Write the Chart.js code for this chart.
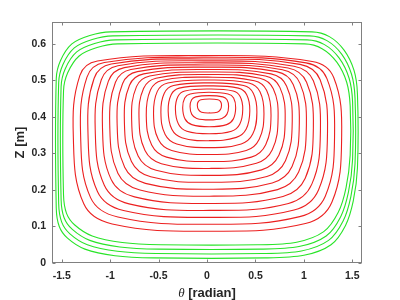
<!DOCTYPE html>
<html>
<head>
<meta charset="utf-8">
<script src="https://cdn.jsdelivr.net/npm/chart.js@4.4.1/dist/chart.umd.min.js"></script>
<style>
html, body { margin: 0; padding: 0; background: #fff; }
</style>
</head>
<body>
<canvas id="chart" width="400" height="300"></canvas>
<script>
(function () {

// ---------------------------------------------------------------- data

var xTicks = [-1.5, -1, -0.5, 0, 0.5, 1, 1.5];
var xTickLabels = ['-1.5', '-1', '-0.5', '0', '0.5', '1', '1.5'];
var yTicks = [0, 0.1, 0.2, 0.3, 0.4, 0.5, 0.6];
var yTickLabels = ['0', '0.1', '0.2', '0.3', '0.4', '0.5', '0.6'];

// closed contours, counter-clockwise from the right side
var redTheta = [
    [1.390, 1.308, 1.086, -0.050, -1.131, -1.313, -1.380, -1.272, -0.979, 0.033, 1.016, 1.290],
    [1.317, 1.238, 1.023, -0.044, -1.060, -1.239, -1.305, -1.202, -0.920, 0.031, 0.957, 1.221],
    [1.244, 1.168, 0.961, -0.036, -0.989, -1.165, -1.229, -1.131, -0.862, 0.030, 0.899, 1.151],
    [1.171, 1.098, 0.899, -0.030, -0.920, -1.091, -1.154, -1.060, -0.805, 0.028, 0.841, 1.082],
    [1.098, 1.028, 0.838, -0.024, -0.853, -1.018, -1.079, -0.990, -0.748, 0.026, 0.784, 1.014],
    [1.026, 0.960, 0.779, -0.018, -0.786, -0.945, -1.004, -0.920, -0.692, 0.025, 0.728, 0.946],
    [0.953, 0.890, 0.720, -0.012, -0.719, -0.872, -0.928, -0.850, -0.636, 0.025, 0.673, 0.878],
    [0.880, 0.821, 0.661, -0.007, -0.654, -0.800, -0.853, -0.780, -0.581, 0.024, 0.618, 0.810],
    [0.807, 0.752, 0.603, -0.002, -0.591, -0.728, -0.778, -0.711, -0.526, 0.023, 0.563, 0.742],
    [0.734, 0.684, 0.546, 0.003, -0.527, -0.655, -0.702, -0.640, -0.471, 0.023, 0.510, 0.674],
    [0.661, 0.615, 0.489, 0.007, -0.466, -0.584, -0.627, -0.571, -0.418, 0.023, 0.457, 0.606],
    [0.588, 0.547, 0.433, 0.010, -0.405, -0.513, -0.552, -0.502, -0.365, 0.022, 0.405, 0.539],
    [0.515, 0.478, 0.378, 0.014, -0.345, -0.441, -0.476, -0.432, -0.312, 0.022, 0.353, 0.472],
    [0.442, 0.410, 0.324, 0.017, -0.287, -0.370, -0.401, -0.363, -0.260, 0.023, 0.303, 0.405],
    [0.369, 0.342, 0.270, 0.019, -0.229, -0.300, -0.326, -0.294, -0.208, 0.023, 0.253, 0.338],
    [0.296, 0.275, 0.217, 0.021, -0.173, -0.230, -0.251, -0.226, -0.157, 0.023, 0.203, 0.271],
    [0.223, 0.207, 0.164, 0.024, -0.117, -0.159, -0.175, -0.157, -0.106, 0.024, 0.154, 0.205],
    [0.150, 0.140, 0.113, 0.025, -0.063, -0.090, -0.100, -0.088, -0.056, 0.025, 0.106, 0.138]
];
var redZ = [
    [0.347, 0.508, 0.552, 0.568, 0.553, 0.513, 0.347, 0.162, 0.107, 0.087, 0.108, 0.167],
    [0.353, 0.505, 0.548, 0.5635, 0.549, 0.509, 0.353, 0.179, 0.126, 0.106, 0.127, 0.183],
    [0.360, 0.502, 0.544, 0.5587, 0.545, 0.506, 0.360, 0.196, 0.144, 0.125, 0.145, 0.200],
    [0.366, 0.499, 0.539, 0.5536, 0.540, 0.502, 0.366, 0.213, 0.162, 0.144, 0.163, 0.216],
    [0.372, 0.495, 0.534, 0.5481, 0.535, 0.498, 0.372, 0.229, 0.181, 0.163, 0.182, 0.232],
    [0.378, 0.492, 0.529, 0.5424, 0.530, 0.495, 0.378, 0.246, 0.200, 0.183, 0.201, 0.249],
    [0.384, 0.489, 0.524, 0.5363, 0.524, 0.491, 0.384, 0.262, 0.218, 0.202, 0.219, 0.264],
    [0.389, 0.485, 0.518, 0.5299, 0.518, 0.487, 0.389, 0.278, 0.236, 0.221, 0.237, 0.280],
    [0.394, 0.481, 0.512, 0.5232, 0.512, 0.483, 0.394, 0.293, 0.254, 0.240, 0.255, 0.295],
    [0.399, 0.477, 0.506, 0.5162, 0.506, 0.478, 0.399, 0.308, 0.272, 0.259, 0.273, 0.310],
    [0.404, 0.473, 0.499, 0.5089, 0.500, 0.474, 0.404, 0.323, 0.290, 0.278, 0.290, 0.324],
    [0.409, 0.469, 0.493, 0.5013, 0.493, 0.470, 0.409, 0.338, 0.308, 0.297, 0.308, 0.339],
    [0.413, 0.465, 0.486, 0.4933, 0.486, 0.465, 0.413, 0.352, 0.326, 0.316, 0.326, 0.353],
    [0.417, 0.461, 0.479, 0.4851, 0.479, 0.461, 0.417, 0.366, 0.343, 0.335, 0.344, 0.367],
    [0.421, 0.456, 0.471, 0.4765, 0.471, 0.456, 0.421, 0.380, 0.361, 0.354, 0.361, 0.380],
    [0.425, 0.452, 0.463, 0.4676, 0.463, 0.452, 0.425, 0.394, 0.379, 0.373, 0.379, 0.394],
    [0.4285, 0.447, 0.455, 0.4584, 0.455, 0.447, 0.4285, 0.407, 0.396, 0.392, 0.396, 0.407],
    [0.432, 0.442, 0.447, 0.449, 0.447, 0.442, 0.432, 0.420, 0.413, 0.411, 0.413, 0.420]
];
var greenTheta = [
    [1.553, 1.517, 1.415, 1.263, 1.083, -0.996, -1.210, -1.395, -1.513, -1.556,
     -1.556, -1.525, -1.440, -1.260, -0.950, -0.550, 0.600, 1.000, 1.280, 1.430, 1.510, 1.553],
    [1.528, 1.492, 1.390, 1.238, 1.058, -0.971, -1.185, -1.370, -1.488, -1.531,
     -1.531, -1.500, -1.415, -1.235, -0.925, -0.525, 0.575, 0.975, 1.255, 1.405, 1.485, 1.528],
    [1.503, 1.467, 1.365, 1.213, 1.033, -0.946, -1.160, -1.345, -1.463, -1.506,
     -1.506, -1.475, -1.390, -1.210, -0.900, -0.500, 0.550, 0.950, 1.230, 1.380, 1.460, 1.503],
    [1.478, 1.442, 1.340, 1.188, 1.008, -0.921, -1.135, -1.320, -1.438, -1.481,
     -1.481, -1.450, -1.365, -1.185, -0.875, -0.475, 0.525, 0.925, 1.205, 1.355, 1.435, 1.478]
];
var greenZ = [
    [0.463, 0.528, 0.583, 0.620, 0.633, 0.633, 0.623, 0.600, 0.554, 0.505,
     0.150, 0.100, 0.068, 0.038, 0.020, 0.014, 0.014, 0.021, 0.050, 0.103, 0.170, 0.260],
    [0.452, 0.517, 0.572, 0.609, 0.622, 0.622, 0.612, 0.589, 0.543, 0.494,
     0.162, 0.112, 0.080, 0.050, 0.032, 0.026, 0.026, 0.033, 0.062, 0.115, 0.182, 0.272],
    [0.441, 0.506, 0.561, 0.598, 0.611, 0.611, 0.601, 0.578, 0.532, 0.483,
     0.174, 0.124, 0.092, 0.062, 0.044, 0.038, 0.038, 0.045, 0.074, 0.127, 0.194, 0.284],
    [0.430, 0.495, 0.550, 0.587, 0.600, 0.600, 0.590, 0.567, 0.521, 0.472,
     0.186, 0.136, 0.104, 0.074, 0.056, 0.050, 0.050, 0.057, 0.086, 0.139, 0.206, 0.296]
];

var RED = 'rgb(236, 32, 32)';
var GREEN = 'rgb(40, 228, 40)';

// ---------------------------------------------------------------- helpers

// wrap a closed loop so every visible point has real neighbours for the spline;
// the two extra end segments are made transparent
function loopSet(th, z, color, tension) {
    var n = th.length, pts = [];
    pts.push({ x: th[n - 1], y: z[n - 1] });
    for (var i = 0; i < n; i++) pts.push({ x: th[i], y: z[i] });
    pts.push({ x: th[0], y: z[0] });
    pts.push({ x: th[1], y: z[1] });
    return {
        data: pts,
        showLine: true,
        borderColor: color,
        borderWidth: 1.1,
        pointRadius: 0,
        pointHoverRadius: 0,
        tension: tension,
        fill: false,
        segment: {
            borderColor: function (ctx) {
                return (ctx.p0DataIndex === 0 || ctx.p0DataIndex === n + 1) ? 'rgba(0,0,0,0)' : color;
            }
        }
    };
}

var datasets = [];
for (var g = 0; g < greenTheta.length; g++) datasets.push(loopSet(greenTheta[g], greenZ[g], GREEN, 0.3));
for (var r = 0; r < redTheta.length; r++) datasets.push(loopSet(redTheta[r], redZ[r], RED, 0.4));

var FONT = '"Liberation Sans", Arial, sans-serif';

var boxPlugin = {
    id: 'matlabBox',
    afterDraw: function (chart) {
        var c = chart.ctx, a = chart.chartArea, xs = chart.scales.x, ys = chart.scales.y;
        var L = Math.round(a.left) + 0.5, R = Math.round(a.right) - 0.5;
        var T = Math.round(a.top) + 0.5, B = Math.round(a.bottom) - 0.5;
        c.save();
        c.strokeStyle = '#808080';
        c.lineWidth = 1;
        c.strokeRect(L, T, R - L, B - T);
        c.beginPath();
        xTicks.forEach(function (v) {
            var px = Math.round(xs.getPixelForValue(v)) + 0.5;
            c.moveTo(px, B); c.lineTo(px, B - 3);
            c.moveTo(px, T); c.lineTo(px, T + 3);
        });
        yTicks.forEach(function (v) {
            var py = Math.round(ys.getPixelForValue(v)) + 0.5;
            c.moveTo(L, py); c.lineTo(L + 3, py);
            c.moveTo(R, py); c.lineTo(R - 3, py);
        });
        c.stroke();

        // axis titles
        c.fillStyle = '#262626';
        c.textBaseline = 'alphabetic';
        var th = '\u03b8', rest = ' [radian]';
        c.font = 'italic 13px "Liberation Serif", serif';
        var w1 = c.measureText(th).width;
        c.font = 'bold 13px ' + FONT;
        var w2 = c.measureText(rest).width;
        var x0 = (a.left + a.right) / 2 - (w1 + w2) / 2;
        c.font = 'italic 13px "Liberation Serif", serif';
        c.textAlign = 'left';
        c.fillText(th, x0, 297);
        c.font = 'bold 13px ' + FONT;
        c.fillText(rest, x0 + w1, 297);

        c.translate(20, (a.top + a.bottom) / 2);
        c.rotate(-Math.PI / 2);
        c.textAlign = 'center';
        c.textBaseline = 'middle';
        c.fillText('Z [m]', 0, 0);
        c.restore();
    }
};

// ---------------------------------------------------------------- chart

new Chart(document.getElementById('chart').getContext('2d'), {
    type: 'scatter',
    data: { datasets: datasets },
    options: {
        responsive: false,
        animation: false,
        events: [],
        layout: { padding: { top: 22, right: 38, left: 0, bottom: 0 } },
        plugins: { legend: { display: false }, tooltip: { enabled: false } },
        scales: {
            x: {
                type: 'linear', min: -1.6, max: 1.6,
                grid: { display: false, drawTicks: false },
                border: { display: false },
                afterBuildTicks: function (s) { s.ticks = xTicks.map(function (v) { return { value: v }; }); },
                afterFit: function (s) { s.height = 37; },
                ticks: {
                    autoSkip: false, maxRotation: 0, padding: 7, color: '#262626',
                    font: { family: FONT, size: 10.5, weight: 'bold' },
                    callback: function (v, i) { return xTickLabels[i]; }
                }
            },
            y: {
                type: 'linear', min: 0, max: 0.66,
                grid: { display: false, drawTicks: false },
                border: { display: false },
                afterBuildTicks: function (s) { s.ticks = yTicks.map(function (v) { return { value: v }; }); },
                afterFit: function (s) { s.width = 52; },
                ticks: {
                    autoSkip: false, padding: 6, color: '#262626',
                    font: { family: FONT, size: 10.5, weight: 'bold' },
                    callback: function (v, i) { return yTickLabels[i]; }
                }
            }
        }
    },
    plugins: [boxPlugin]
});

})();
</script>
</body>
</html>
